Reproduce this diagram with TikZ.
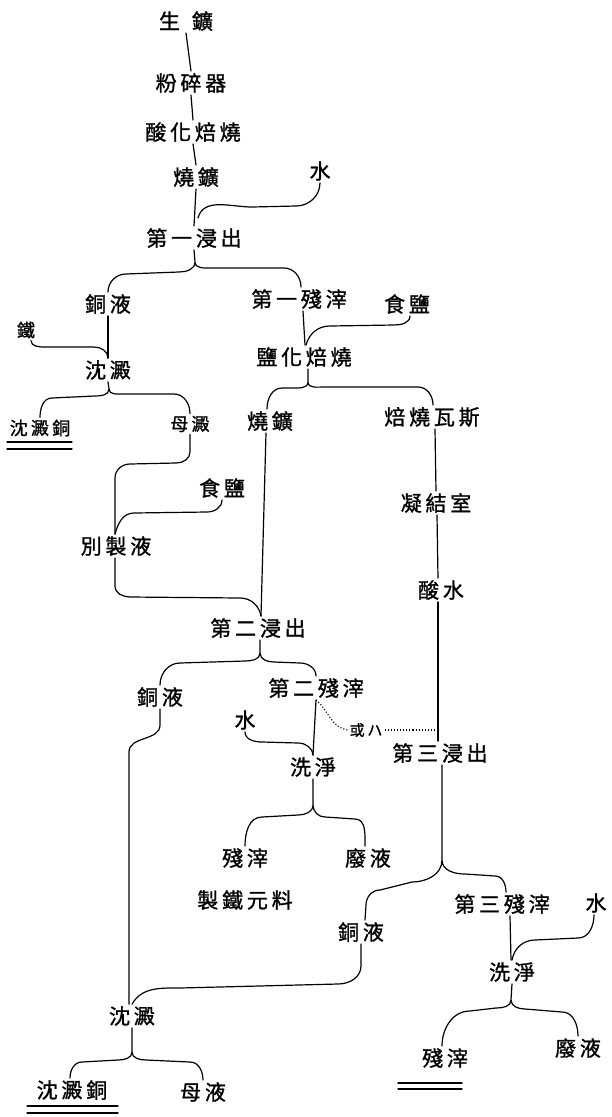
\documentclass[tikz,border=0pt]{standalone}
\usepackage{fontspec}
\newfontfamily\cjk[LetterSpace=18,FakeBold=1.2]{Noto Sans CJK TC}
\begin{document}
\begin{tikzpicture}[x=1pt,y=-1pt,
  lbl/.style={font=\cjk\fontsize{21}{21}\selectfont, inner sep=2pt},
  sml/.style={font=\cjk\fontsize{18}{18}\selectfont, inner sep=2pt},
  tiny/.style={font=\cjk\fontsize{15}{15}\selectfont, inner sep=2pt},
  ln/.style={line width=1.2pt, line cap=round},
  dln/.style={line width=1.1pt, dotted}]
\useasboundingbox (0,0) rectangle (611,1117);
% nodes
\node[lbl] (raw) at (186,21) {生\hspace{12pt}鑛};
\node[lbl] (mill) at (191,83) {粉碎器};
\node[lbl] (oxr) at (193,132) {酸化焙燒};
\node[lbl] (roasted1) at (196,177) {燒鑛};
\node[lbl] (water1) at (320,171) {水};
\node[lbl] (leach1) at (194,238) {第一浸出};
\node[lbl] (cu1) at (108,304) {銅液};
\node[lbl] (res1) at (299,299) {第一殘滓};
\node[lbl] (salt1) at (407,304) {食鹽};
\node[sml] (iron) at (26,330) {鐵};
\node[lbl] (prec1) at (108,370) {沈澱};
\node[lbl] (chl) at (304,357) {鹽化焙燒};
\node[sml] (cuprec1) at (40,428) {沈澱銅};
\node[sml] (mother1) at (190,424) {母澱};
\node[lbl] (roasted2) at (270,421) {燒鑛};
\node[lbl] (gas) at (432,417) {焙燒瓦斯};
\node[lbl] (salt2) at (222,488) {食鹽};
\node[lbl] (cond) at (436,503) {凝結室};
\node[lbl] (sep) at (116,546) {別製液};
\node[lbl] (acid) at (441,590) {酸水};
\node[lbl] (leach2) at (258,628) {第二浸出};
\node[lbl] (cu2) at (160,697) {銅液};
\node[lbl] (res2) at (316,688) {第二殘滓};
\node[lbl] (water2) at (245,720) {水};
\node[tiny] (or) at (366,730) {或ハ};
\node[lbl] (leach3) at (440,753) {第三浸出};
\node[lbl] (wash1) at (313,767) {洗淨};
\node[lbl] (res3) at (245,858) {殘滓};
\node[lbl] (waste1) at (368,858) {廢液};
\node[lbl] (ironmat) at (245,900) {製鐵元料};
\node[lbl] (res4) at (502,904) {第三殘滓};
\node[lbl] (water3) at (596,903) {水};
\node[lbl] (cu3) at (361,932) {銅液};
\node[lbl] (wash2) at (512,972) {洗淨};
\node[lbl] (prec2) at (132,1016) {沈澱};
\node[lbl] (res5) at (445,1058) {殘滓};
\node[lbl] (waste2) at (578,1048) {廢液};
\node[lbl] (cuprec2) at (72,1090) {沈澱銅};
\node[lbl] (mother2) at (203,1092) {母液};
\coordinate (j1) at (198,218);
\coordinate (m3) at (438,730);
% connectors
\draw[ln] (raw.south) -- (mill.north);
\draw[ln] (mill.south) -- (oxr.north);
\draw[ln] (oxr.south) -- (roasted1.north);
\draw[ln] (roasted1.south) -- (leach1.north);
\draw[ln] (water1.south) to[out=270,in=0] (296,206) -- (252,207) to[out=180,in=75] (j1);
\draw[ln] (leach1.south) -- (195,262) to[out=270,in=0] (179,272) -- (126,274) to[out=180,in=90] (cu1.north)
  (195,262) to[out=270,in=180] (211,268) -- (284,268) to[out=0,in=90] ([xshift=2]res1.north);
\draw[ln] (cu1.south) -- (prec1.north);
\draw[ln] ([xshift=5]iron.south) to[out=270,in=180] (46,347) -- (94,347) to[out=0,in=90] (prec1.north);
\draw[ln] (prec1.south) -- (109,389) to[out=270,in=0] (95,396) -- (52,398) to[out=180,in=90] (cuprec1.north)
  (109,389) to[out=270,in=180] (124,394) -- (174,394) to[out=0,in=90] (mother1.north);
\draw[ln] ([xshift=4]res1.south) -- ([xshift=1]chl.north);
\draw[ln] ([xshift=3]salt1.south) to[out=270,in=0] (394,325) -- (330,326) to[out=180,in=75] ([xshift=2]chl.north);
\draw[ln] ([xshift=4]chl.south) -- (308,382) to[out=270,in=0] (292,388) -- (282,388) to[out=180,in=90] ([xshift=-3]roasted2.north)
  (308,382) to[out=270,in=180] (324,387) -- (418,387) to[out=0,in=90] ([xshift=1]gas.north);
\draw[ln] (mother1.south) -- (190,452) to[out=270,in=0] (176,463) -- (130,464) to[out=180,in=90] (115,478) -- ([xshift=-1]sep.north);
\draw[ln] (salt2.south) to[out=270,in=0] (207,512) -- (134,513) to[out=180,in=75] ([xshift=-1]sep.north);
\draw[ln] ([xshift=-1]sep.south) -- (115,586) to[out=270,in=180] (130,597) -- (240,598) to[out=0,in=100] ([xshift=3]leach2.north);
\draw[ln] ([xshift=-4]roasted2.south) -- ([xshift=3]leach2.north);
\draw[ln] ([xshift=3]gas.south) -- (cond.north);
\draw[ln] ([xshift=1]cond.south) -- ([xshift=-3]acid.north);
\draw[ln] ([xshift=-3]acid.south) -- (m3) -- ([xshift=-2]leach3.north);
\draw[ln] ([xshift=2]leach2.south) -- (260,653) to[out=270,in=0] (245,661) -- (180,663) to[out=180,in=90] (cu2.north)
  (260,653) to[out=270,in=180] (274,662) -- (300,663) to[out=0,in=90] (res2.north);
\draw[ln] (cu2.south) -- (160,725) to[out=270,in=90] (129,752) -- ([xshift=-3]prec2.north);
\draw[ln] (water2.south) to[out=270,in=180] (262,742) -- (298,743) to[out=0,in=95] (wash1.north);
\draw[ln] (res2.south) -- (wash1.north);
\draw[dln] (res2.south) to[out=-40,in=170] (or.west);
\draw[dln] (or.east) -- (m3);
\draw[ln] ([xshift=2]leach3.south) -- (442,860) to[out=270,in=0] (412,882) -- (380,890) to[out=180,in=90] (366,905) -- ([xshift=4]cu3.north)
  (442,860) to[out=270,in=180] (465,874) -- (495,876) to[out=0,in=90] ([xshift=4]res4.north);
\draw[ln] (wash1.south) -- (313,805) to[out=270,in=0] (298,815) -- (262,817) to[out=180,in=90] (res3.north)
  (313,805) to[out=270,in=180] (325,817) -- (355,819) to[out=0,in=90] ([xshift=-3]waste1.north);
\draw[ln] ([xshift=8]res4.south) -- ([xshift=-1]wash2.north);
\draw[ln] ([xshift=-2]water3.south) to[out=270,in=0] (578,938) -- (535,940) to[out=180,in=80] (wash2.north);
\draw[ln] (wash2.south) -- (511,1000) to[out=270,in=0] (496,1008) -- (470,1011) to[out=180,in=90] ([xshift=-3]res5.north)
  (511,1000) to[out=270,in=180] (525,1009) -- (562,1012) to[out=0,in=90] (waste2.north);
\draw[ln] (cu3.south) -- (361,966) to[out=270,in=0] (338,984) -- (180,988) to[out=180,in=60] (prec2.north);
\draw[ln] (prec2.south) -- (132,1052) to[out=270,in=0] (118,1060) -- (82,1062) to[out=180,in=90] ([xshift=-2]cuprec2.north)
  (132,1052) to[out=270,in=180] (146,1060) -- (190,1062) to[out=0,in=90] (mother2.north);
% double underlines
\draw[ln] (7,442) -- (72,442) (7,449) -- (72,449);
\draw[ln] (27,1106) -- (118,1106) (27,1113) -- (118,1113);
\draw[ln] (398,1083) -- (462,1083) (398,1089) -- (462,1089);
\end{tikzpicture}
\end{document}
